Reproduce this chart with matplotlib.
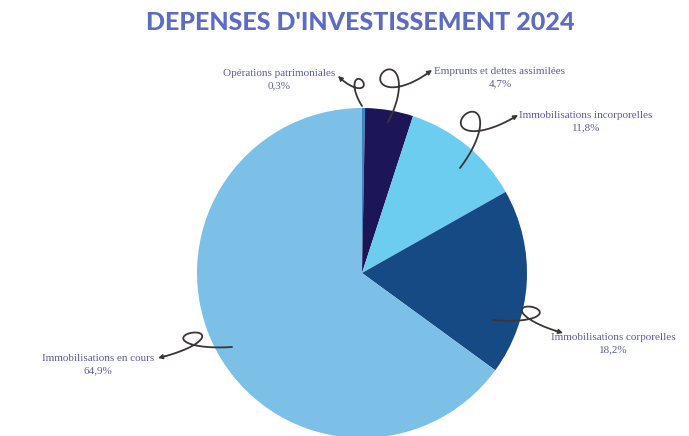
import numpy as np
import matplotlib.pyplot as plt

# data
labels = ['Opérations patrimoniales', 'Emprunts et dettes assimilées',
          'Immobilisations incorporelles', 'Immobilisations corporelles',
          'Immobilisations en cours']
values = [0.3, 4.7, 11.8, 18.2, 64.9]
colors = ['#3f86c8', '#1d1656', '#6ccdf1', '#154a85', '#7cc0e8']

W, H = 689, 436
fig = plt.figure(figsize=(W / 100, H / 100), dpi=100)
ax = fig.add_axes([0, 0, 1, 1])

cx, cy, r = 362, H - 273, 165
ax.pie(values, colors=colors, startangle=90, counterclock=False,
       center=(cx, cy), radius=r, wedgeprops=dict(linewidth=0))
ax.set_xlim(0, W)
ax.set_ylim(0, H)
ax.set_aspect('equal')
ax.axis('off')


def curly(p0, p1, amp, loop, bend):
    # hand-drawn looking arrow with a small loop, from p0 to p1 (pixel coords, y down)
    p0 = np.array([p0[0], H - p0[1]], float)
    p1 = np.array([p1[0], H - p1[1]], float)
    d = p1 - p0
    L = np.hypot(*d)
    u = d / L
    v = np.array([-u[1], u[0]])
    t = np.linspace(0, 1, 300)
    x = L * t + loop * L * np.sin(2 * np.pi * t)
    y = amp * (1 - np.cos(2 * np.pi * t)) / 2 + bend * np.sin(np.pi * t)
    pts = p0[None, :] + x[:, None] * u[None, :] + y[:, None] * v[None, :]
    ax.plot(pts[:-8, 0], pts[:-8, 1], color='#3b3535', lw=1.3, solid_capstyle='round')
    ax.annotate('', xy=pts[-1], xytext=pts[-12],
                arrowprops=dict(arrowstyle='-|>', color='#3b3535', lw=1.0,
                                mutation_scale=7, shrinkA=0, shrinkB=0))


txt_color = '#5a5f9c'
serif = 'Liberation Serif'


def label(x, y, name, pct):
    ax.text(x, H - y, name + '\n' + pct, ha='center', va='center',
            fontsize=8, color=txt_color, family=serif, linespacing=1.5)


pcts = [('%.1f%%' % v).replace('.', ',') for v in values]

label(279, 80, labels[0], pcts[0])
curly((362, 106), (338, 76), -12, 0.34, -4)

label(500, 78, labels[1], pcts[1])
curly((388, 122), (432, 70), 22, 0.34, 14)

label(586, 122, labels[2], pcts[2])
curly((460, 168), (518, 115), 22, 0.34, 14)

label(613, 344, labels[3], pcts[3])
curly((493, 320), (563, 333), 14, 0.34, 6)

label(98, 365, labels[4], pcts[4])
curly((232, 347), (158, 358), -14, 0.34, -6)

fig.text(360 / W, 1 - 23 / H, "DEPENSES D'INVESTISSEMENT 2024", ha='center', va='center',
         fontsize=18, fontweight='black', family='Lato', color='#5c6cc3')

fig.savefig('out.png', dpi=100, facecolor='white')
